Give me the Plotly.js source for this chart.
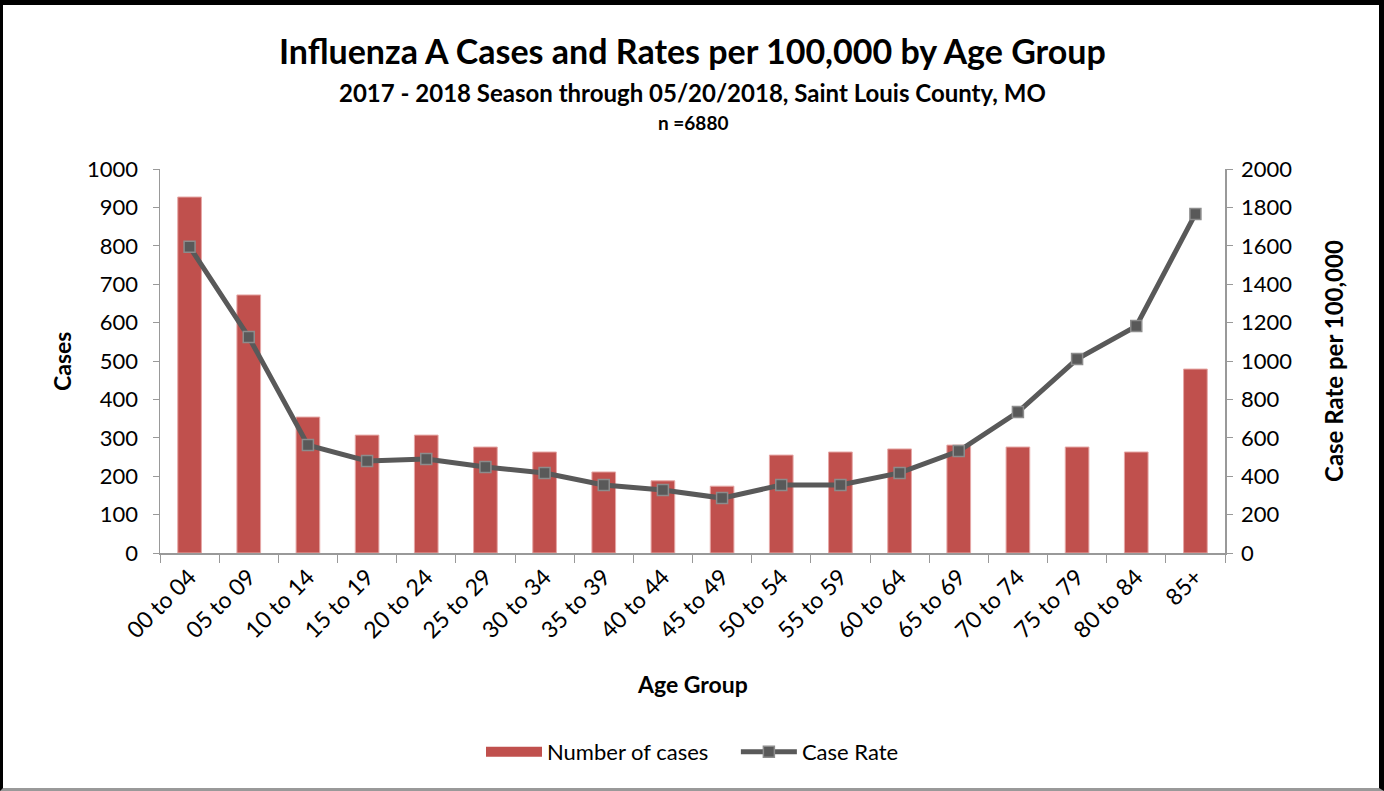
<!DOCTYPE html>
<html>
<head>
<meta charset="utf-8">
<script src="https://cdn.plot.ly/plotly-3.0.1.min.js"></script>
<style>
html,body{margin:0;padding:0;background:#fff;}
#frame{position:absolute;left:0;top:0;width:1384px;height:791px;box-sizing:border-box;border-top:5px solid #000;border-left:3px solid #000;border-right:5px solid #000;border-bottom:3px solid #999;}
#chart{position:absolute;left:0;top:0;width:1384px;height:791px;}
</style>
</head>
<body>
<div id="chart"></div>
<div id="frame"></div>
<script>
const categories = ["00 to 04","05 to 09","10 to 14","15 to 19","20 to 24","25 to 29","30 to 34","35 to 39","40 to 44","45 to 49","50 to 54","55 to 59","60 to 64","65 to 69","70 to 74","75 to 79","80 to 84","85+"];
const cases = [927,672,354,307,307,276,263,211,188,174,255,263,271,281,276,276,263,479];
const caseRate = [1595,1125,562,479,490,448,417,354,328,286,354,354,417,531,734,1010,1182,1766];
const leftTicks = [0,100,200,300,400,500,600,700,800,900,1000];
const rightTicks = [0,200,400,600,800,1000,1200,1400,1600,1800,2000];

const FONT = "Lato, 'Open Sans', sans-serif";
const BAR_RED = "#C0504D";

const traces = [
  {
    type: "bar",
    name: "Number of cases",
    x: categories,
    y: cases,
    width: 0.4,
    showlegend: false,
    marker: {color: BAR_RED, line: {color: "#E6A8A6", width: 1}},
    yaxis: "y"
  },
  {
    // legend-only entry drawn as a wide swatch like the reference
    type: "scatter",
    mode: "lines",
    name: "Number of cases\u00a0\u00a0\u00a0\u00a0",
    x: [null],
    y: [null],
    line: {color: BAR_RED, width: 13},
    hoverinfo: "skip",
    yaxis: "y"
  },
  {
    type: "scatter",
    mode: "lines+markers",
    name: "Case Rate",
    x: categories,
    y: caseRate,
    yaxis: "y2",
    line: {color: "#595959", width: 5},
    marker: {symbol: "square", size: 11, color: "#595959", line: {color: "#8C8C8C", width: 1.5}}
  }
];

const layout = {
  width: 1384,
  height: 791,
  paper_bgcolor: "#ffffff",
  plot_bgcolor: "#ffffff",
  margin: {l: 160, r: 159, t: 169, b: 238},
  font: {family: FONT, color: "#000"},
  showlegend: true,
  legend: {orientation: "h", x: 0.5, xanchor: "center", y: -0.518, yanchor: "middle",
           font: {family: FONT, size: 22, color: "#000"}, itemwidth: 56, tracegroupgap: 0},
  xaxis: {
    type: "category",
    tickangle: -45,
    ticks: "outside",
    tickson: "boundaries",
    ticklen: 8,
    tickcolor: "#999",
    showline: true,
    linecolor: "#999",
    linewidth: 1.5,
    showgrid: false,
    zeroline: false,
    tickfont: {family: FONT, size: 23, color: "#000"},
    range: [-0.5, 17.5]
  },
  yaxis: {
    range: [0, 1000],
    tickvals: leftTicks,
    ticks: "outside",
    ticklen: 6,
    tickcolor: "#999",
    showline: true,
    linecolor: "#999",
    linewidth: 1.5,
    showgrid: false,
    zeroline: false,
    ticklabelstandoff: 10,
    tickfont: {family: FONT, size: 22, color: "#000"}
  },
  yaxis2: {
    range: [0, 2000],
    tickvals: rightTicks,
    overlaying: "y",
    side: "right",
    ticks: "outside",
    ticklen: 6,
    tickcolor: "#999",
    showline: true,
    linecolor: "#999",
    linewidth: 1.5,
    showgrid: false,
    zeroline: false,
    ticklabelstandoff: 4,
    tickfont: {family: FONT, size: 22, color: "#000"}
  },
  annotations: [
    {text: "<b>Influenza A Cases and Rates per 100,000 by Age Group</b>", xref: "paper", yref: "paper",
     x: 0.5, y: (553 - 50) / 384, xanchor: "center", yanchor: "middle", showarrow: false,
     font: {family: FONT, size: 34, color: "#000"}},
    {text: "<b>2017 - 2018 Season through 05/20/2018, Saint Louis County, MO</b>", xref: "paper", yref: "paper",
     x: 0.5, y: (553 - 92) / 384, xanchor: "center", yanchor: "middle", showarrow: false,
     font: {family: FONT, size: 24, color: "#000"}},
    {text: "<b>n =6880</b>", xref: "paper", yref: "paper",
     x: 0.5, y: (553 - 122) / 384, xanchor: "center", yanchor: "middle", showarrow: false,
     font: {family: FONT, size: 19, color: "#000"}},
    {text: "<b>Cases</b>", xref: "paper", yref: "paper",
     x: (62 - 160) / 1065, y: 0.5, xanchor: "center", yanchor: "middle", textangle: -90, showarrow: false,
     font: {family: FONT, size: 23, color: "#000"}},
    {text: "<b>Case Rate per 100,000</b>", xref: "paper", yref: "paper",
     x: (1333 - 160) / 1065, y: 0.5, xanchor: "center", yanchor: "middle", textangle: -90, showarrow: false,
     font: {family: FONT, size: 24, color: "#000"}},
    {text: "<b>Age Group</b>", xref: "paper", yref: "paper",
     x: 0.5, y: (553 - 684) / 384, xanchor: "center", yanchor: "middle", showarrow: false,
     font: {family: FONT, size: 23, color: "#000"}}
  ]
};

Plotly.newPlot("chart", traces, layout, {displayModeBar: false, staticPlot: true});
</script>
</body>
</html>
